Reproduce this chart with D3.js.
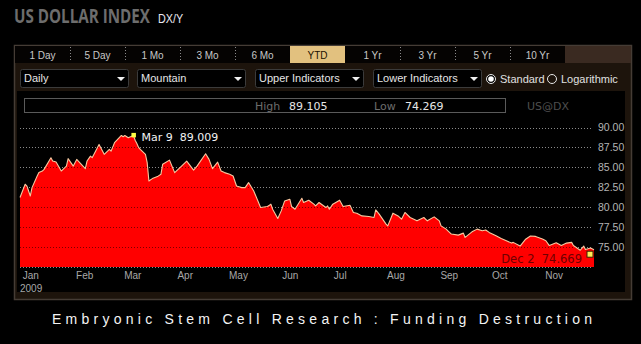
<!DOCTYPE html>
<html><head><meta charset="utf-8">
<script src="https://cdn.jsdelivr.net/npm/d3@7"></script>
<style>
html,body{margin:0;padding:0;background:#000;}
svg{display:block;}
</style></head>
<body>
<script>
// ---- DATA ----
const dates = [
 "2009-01-02","2009-01-05","2009-01-06","2009-01-08","2009-01-09","2009-01-12","2009-01-13","2009-01-15","2009-01-16","2009-01-20","2009-01-21","2009-01-23","2009-01-26","2009-01-29","2009-01-30",
 "2009-02-02","2009-02-04","2009-02-09","2009-02-10","2009-02-12","2009-02-13","2009-02-17","2009-02-20","2009-02-23","2009-02-24","2009-02-26",
 "2009-03-02","2009-03-03","2009-03-04","2009-03-06","2009-03-09","2009-03-10","2009-03-11","2009-03-12","2009-03-13","2009-03-16","2009-03-17","2009-03-18","2009-03-20","2009-03-23","2009-03-25","2009-03-26","2009-03-30",
 "2009-04-02","2009-04-06","2009-04-09","2009-04-13","2009-04-15","2009-04-20","2009-04-22","2009-04-24","2009-04-27","2009-04-29",
 "2009-05-01","2009-05-04","2009-05-06","2009-05-08","2009-05-11","2009-05-13","2009-05-15","2009-05-18","2009-05-22","2009-05-26","2009-05-28","2009-05-29",
 "2009-06-01","2009-06-03","2009-06-05","2009-06-08","2009-06-09","2009-06-11","2009-06-15","2009-06-16","2009-06-18","2009-06-19","2009-06-22","2009-06-23","2009-06-25","2009-06-29","2009-06-30",
 "2009-07-01","2009-07-03","2009-07-07","2009-07-09","2009-07-13","2009-07-15","2009-07-17","2009-07-20","2009-07-24","2009-07-27","2009-07-28","2009-07-30",
 "2009-08-03","2009-08-04","2009-08-06","2009-08-07","2009-08-10","2009-08-12","2009-08-14","2009-08-17","2009-08-21","2009-08-25","2009-08-27","2009-08-31",
 "2009-09-03","2009-09-04","2009-09-07","2009-09-08","2009-09-10","2009-09-14","2009-09-17","2009-09-18","2009-09-22","2009-09-25","2009-09-28","2009-09-30",
 "2009-10-02","2009-10-06","2009-10-09","2009-10-12","2009-10-15","2009-10-16","2009-10-20","2009-10-23","2009-10-26","2009-10-29",
 "2009-11-02","2009-11-04","2009-11-06","2009-11-10","2009-11-13","2009-11-16","2009-11-19","2009-11-20","2009-11-24","2009-11-26","2009-11-27","2009-11-30",
 "2009-12-02"
];
const values = [
 81.21,82.88,82.66,81.41,82.46,83.91,84.34,84.54,84.75,86.21,85.79,85.66,84.54,85.16,86.09,
 85.16,86.00,84.84,85.79,86.41,86.21,87.88,86.63,87.25,87.04,88.09,
 89.00,88.84,89.00,88.71,89.009,88.40,88.00,87.50,87.25,86.63,85.60,83.29,83.59,83.84,84.13,85.38,85.91,
 84.34,85.16,85.79,84.66,85.16,86.71,86.00,84.84,85.66,84.54,
 84.34,84.13,83.91,82.66,82.46,82.46,83.09,82.04,79.96,80.09,80.38,79.75,
 78.59,79.54,80.79,81.00,80.09,79.75,81.13,80.59,80.79,80.88,80.38,80.16,80.59,79.96,80.16,
 79.75,80.38,80.88,80.09,80.25,79.34,79.25,78.91,78.84,78.71,79.66,79.13,
 77.88,77.66,78.71,79.25,78.91,78.50,79.34,78.71,78.29,78.71,78.29,78.79,
 78.29,77.66,77.25,77.04,76.63,76.50,76.75,76.21,76.91,77.25,77.04,77.15,
 76.84,76.41,76.09,75.79,75.50,75.59,75.13,75.94,76.38,76.34,
 76.00,75.79,75.19,75.54,75.19,75.50,75.59,75.19,74.60,75.13,74.69,74.88,
 74.669
];
const monthTicks = ["2009-01-01","2009-02-01","2009-03-01","2009-04-01","2009-05-01","2009-06-01","2009-07-01","2009-08-01","2009-09-01","2009-10-01","2009-11-01"];
const yTicks = [90.00, 87.50, 85.00, 82.50, 80.00, 77.50, 75.00];
const yGrid = [90.00, 87.50, 85.00, 82.50, 80.00, 77.50, 75.00, 72.50];
const yDomain = [72.5, 90];
const tabLabels = ["1 Day","5 Day","1 Mo","3 Mo","6 Mo","YTD","1 Yr","3 Yr","5 Yr","10 Yr"];
const activeTab = "YTD";
const dropdownLabels = ["Daily","Mountain","Upper Indicators","Lower Indicators"];
const radioLabels = ["Standard","Logarithmic"];
const highValue = "89.105", lowValue = "74.269", symbol = "US@DX";
const peakLabel = {date:"2009-03-09", text:"Mar 9  89.009"};
const lastLabel = {date:"2009-12-02", text:"Dec 2  74.669"};
const titleText = "US DOLLAR INDEX", subTitle = "DX/Y", yearLabel = "2009";
const caption = "Embryonic Stem Cell Research : Funding Destruction";

// ---- DRAW ----
const W = 641, H = 344;
const parse = d3.timeParse("%Y-%m-%d");
const data = dates.map((d,i)=>({date:parse(d), value:values[i]}));

const svg = d3.select("body").append("svg").attr("width",W).attr("height",H);
svg.append("rect").attr("width",W).attr("height",H).attr("fill","#000");

// title (horizontally condensed)
svg.append("text").attr("transform","translate(14,23) scale(0.8,1)").text(titleText)
  .attr("font-family","Open Sans, Liberation Sans, sans-serif").attr("font-weight","bold")
  .attr("font-size",19).attr("fill","#6d6d6d");
svg.append("text").attr("transform","translate(158,23) scale(0.9,1)").text(subTitle)
  .attr("font-family","Liberation Sans, sans-serif").attr("font-size",12).attr("fill","#e8e8f0");

// panel
svg.append("rect").attr("x",14.5).attr("y",45.5).attr("width",617).attr("height",254)
  .attr("fill","#1d140c").attr("stroke","#453c35").attr("stroke-width",1.5);

// tabs row
svg.append("rect").attr("x",15).attr("y",46).attr("width",616).attr("height",17).attr("fill","#3a2a21");
const tabW = 55, tab0 = 15;
const tabs = svg.append("g");
tabLabels.forEach((t,i)=>{
  const x0 = tab0 + i*tabW;
  tabs.append("rect").attr("x",x0).attr("y",46).attr("width",tabW).attr("height",17)
    .attr("fill", t===activeTab ? "#e2c17f" : "#050302");
  if(i>0 && t!==activeTab && tabLabels[i-1]!==activeTab)
    tabs.append("line").attr("x1",x0+0.5).attr("x2",x0+0.5).attr("y1",47).attr("y2",62)
      .attr("stroke","#8a8a8a").attr("stroke-dasharray","1,2");
  tabs.append("text").attr("x",x0+tabW/2).attr("y",58.5).attr("text-anchor","middle").text(t)
    .attr("font-family","Liberation Sans, Arial, sans-serif").attr("font-size",10)
    .attr("fill", t===activeTab ? "#1a1000" : "#c8c8c8");
});

// dropdowns
const ddX = [20,137,255,373], ddW = 109;
dropdownLabels.forEach((t,i)=>{
  const g = svg.append("g").attr("transform",`translate(${ddX[i]},69)`);
  g.append("rect").attr("x",0.5).attr("y",0.5).attr("width",ddW-1).attr("height",18).attr("rx",2)
    .attr("fill","#000").attr("stroke","#3b3b3b");
  g.append("text").attr("x",4).attr("y",13).text(t)
    .attr("font-family","Liberation Sans, Arial, sans-serif").attr("font-size",11).attr("fill","#e6e6e6");
  g.append("path").attr("d",`M${ddW-12},8 L${ddW-4},8 L${ddW-8},12 Z`).attr("fill","#f0f0f0");
});
// radios
const radX = [491, 552], radTX = [500, 561];
radioLabels.forEach((t,i)=>{
  svg.append("circle").attr("cx",radX[i]).attr("cy",79).attr("r",4.5)
    .attr("fill", i===0 ? "#000" : "none").attr("stroke","#e8e8e8").attr("stroke-width",1);
  if(i===0) svg.append("circle").attr("cx",radX[i]).attr("cy",79).attr("r",2.8).attr("fill","#fff");
  svg.append("text").attr("x",radTX[i]).attr("y",83).text(t)
    .attr("font-family","Liberation Sans, Arial, sans-serif").attr("font-size",11).attr("fill","#e0e0e0");
});

// chart black region
svg.append("rect").attr("x",17).attr("y",91).attr("width",608).attr("height",201).attr("fill","#000");

// info bar
svg.append("rect").attr("x",24.5).attr("y",98.5).attr("width",481).attr("height",14)
  .attr("fill","none").attr("stroke","#5a5a5a");
const infoFont = "DejaVu Sans, Verdana, sans-serif";
svg.append("text").attr("x",255).attr("y",110).text("High").attr("font-family",infoFont).attr("font-size",11).attr("fill","#6c6c6c");
svg.append("text").attr("x",289).attr("y",110).text(highValue).attr("font-family",infoFont).attr("font-size",11).attr("fill","#e6e6e6");
svg.append("text").attr("x",374).attr("y",110).text("Low").attr("font-family",infoFont).attr("font-size",11).attr("fill","#6c6c6c");
svg.append("text").attr("x",405).attr("y",110).text(lowValue).attr("font-family",infoFont).attr("font-size",11).attr("fill","#e6e6e6");
svg.append("text").attr("x",527).attr("y",110).text(symbol).attr("font-family",infoFont).attr("font-size",11).attr("fill","#4e4e4e");

// scales
const x = d3.scaleTime().domain(d3.extent(data,d=>d.date)).range([20,594]);
const y = d3.scaleLinear().domain(yDomain).range([267,127.5]);

// gridlines under area
const grid = svg.append("g");
grid.selectAll("line").data(yGrid).join("line")
  .attr("x1",20).attr("x2",592).attr("y1",d=>Math.round(y(d))+0.5).attr("y2",d=>Math.round(y(d))+0.5)
  .attr("stroke","#8a8a8a").attr("stroke-dasharray","1,2");

// area + line
const area = d3.area().x(d=>x(d.date)).y0(y(yDomain[0])).y1(d=>y(d.value));
const line = d3.line().x(d=>x(d.date)).y(d=>y(d.value));
svg.append("path").datum(data).attr("d",area).attr("fill","#ff0000");
const clipId = "areaClip";
svg.append("clipPath").attr("id",clipId).append("path").datum(data).attr("d",area);
svg.append("g").attr("clip-path",`url(#${clipId})`).selectAll("line").data(yGrid).join("line")
  .attr("x1",20).attr("x2",592).attr("y1",d=>Math.round(y(d))+0.5).attr("y2",d=>Math.round(y(d))+0.5)
  .attr("stroke","#7a0000").attr("stroke-dasharray","1,2");
svg.append("path").datum(data).attr("d",line).attr("fill","none")
  .attr("stroke","#f7c8a0").attr("stroke-width",1.1).attr("stroke-linejoin","round");

// y axis labels (right)
const yAxis = d3.axisRight(y).tickValues(yTicks).tickSize(0).tickPadding(0).tickFormat(d3.format(".2f"));
const yg = svg.append("g").attr("transform","translate(598,0)").call(yAxis);
yg.select(".domain").remove();
yg.selectAll("text").attr("font-family","Liberation Sans Narrow, Liberation Sans, Arial, sans-serif")
  .attr("font-size",10.5).attr("fill","#b4b4b4");

// x axis labels
const xAxis = d3.axisBottom(x).tickValues(monthTicks.map(parse)).tickSize(0).tickPadding(0).tickFormat(d3.timeFormat("%b"));
const xg = svg.append("g").attr("transform","translate(0,273)").call(xAxis);
xg.select(".domain").remove();
xg.selectAll("text").attr("text-anchor","start").attr("dx",4).attr("dy","0.6em")
  .attr("font-family","Liberation Sans Narrow, Liberation Sans, Arial, sans-serif")
  .attr("font-size",10).attr("fill","#a8a8a8");
svg.append("text").attr("x",20).attr("y",292).text(yearLabel)
  .attr("font-family","Liberation Sans Narrow, Liberation Sans, Arial, sans-serif")
  .attr("font-size",10).attr("fill","#a8a8a8");

// peak marker
const pk = data.find(d=>+d.date===+parse(peakLabel.date));
svg.append("rect").attr("x",x(pk.date)-2).attr("y",y(pk.value)-2.5).attr("width",4.5).attr("height",4.5).attr("fill","#ffff44");
svg.append("text").attr("x",x(pk.date)+8).attr("y",y(pk.value)+5.5).text(peakLabel.text)
  .attr("font-family",infoFont).attr("font-size",11).attr("fill","#f2f2f2").style("white-space","pre");

// last marker
const ls = data.find(d=>+d.date===+parse(lastLabel.date));
svg.append("rect").attr("x",x(ls.date)-7).attr("y",y(ls.value)+1.5).attr("width",6).attr("height",6)
  .attr("fill","#ffee55").attr("stroke","#3a2000").attr("stroke-width",1);
svg.append("text").attr("x",x(ls.date)-12).attr("y",y(ls.value)+13.5).attr("text-anchor","end").text(lastLabel.text)
  .attr("font-family",infoFont).attr("font-size",11.5).attr("fill","#6e0000").style("white-space","pre");

// caption
svg.append("text").attr("x",52).attr("y",324).text(caption)
  .attr("font-family","Liberation Sans, Arial, sans-serif").attr("font-size",14).attr("fill","#f4f4f4")
  .attr("textLength",540).attr("lengthAdjust","spacing");
</script>
</body></html>
